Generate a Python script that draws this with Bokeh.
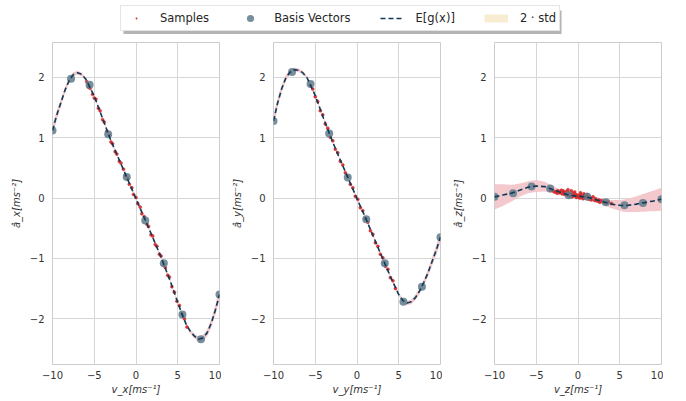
from bokeh.plotting import figure
from bokeh.models import FixedTicker, Range1d, Legend, LegendItem, BoxAnnotation
from bokeh.layouts import column, row
from bokeh.embed import file_html
from bokeh.resources import INLINE

# ---- data -----------------------------------------------------------
curve_x = [-10, -9.5, -9, -8.5, -8, -7.5, -7, -6.5, -6, -5, -4, -3, -2, -1, 0,
           1, 2, 3, 4, 5, 5.5, 6, 6.5, 7, 7.5, 8, 8.5, 9, 9.5, 10]

mean_x = [1.12, 1.37, 1.58, 1.79, 1.95, 2.05, 2.08, 2.05, 1.97, 1.69, 1.32, 0.95, 0.63, 0.31, -0.01,
          -0.33, -0.65, -0.98, -1.34, -1.73, -1.92, -2.09, -2.21, -2.29, -2.34, -2.32, -2.24, -2.08, -1.86, -1.60]
std_x = [0.10, 0.08, 0.065, 0.05, 0.04, 0.035, 0.03, 0.03, 0.025, 0.02, 0.02, 0.02, 0.02, 0.02, 0.02,
         0.02, 0.02, 0.02, 0.02, 0.02, 0.025, 0.03, 0.035, 0.04, 0.045, 0.05, 0.06, 0.07, 0.085, 0.10]

mean_y = [1.28, 1.58, 1.82, 2.00, 2.09, 2.13, 2.12, 2.08, 2.00, 1.70, 1.32, 0.96, 0.63, 0.31, -0.01,
          -0.32, -0.65, -0.98, -1.30, -1.60, -1.70, -1.74, -1.72, -1.65, -1.54, -1.40, -1.24, -1.05, -0.86, -0.65]
std_y = [0.10, 0.08, 0.065, 0.05, 0.04, 0.035, 0.03, 0.03, 0.025, 0.02, 0.02, 0.02, 0.02, 0.02, 0.02,
         0.02, 0.02, 0.02, 0.02, 0.025, 0.03, 0.035, 0.04, 0.045, 0.05, 0.055, 0.06, 0.07, 0.08, 0.09]

mean_z = [0.02, 0.035, 0.05, 0.065, 0.08, 0.105, 0.13, 0.155, 0.18, 0.20, 0.19, 0.14, 0.09, 0.045, 0.03,
          0.02, -0.02, -0.06, -0.10, -0.12, -0.125, -0.12, -0.11, -0.10, -0.085, -0.075, -0.06, -0.05, -0.035, -0.02]
std_z = [0.21, 0.195, 0.18, 0.16, 0.14, 0.125, 0.11, 0.105, 0.10, 0.10, 0.08, 0.06, 0.04, 0.03, 0.025,
         0.03, 0.04, 0.05, 0.07, 0.09, 0.10, 0.11, 0.12, 0.13, 0.14, 0.15, 0.16, 0.17, 0.18, 0.19]

basis_v = [-10, -7.78, -5.56, -3.33, -1.11, 1.11, 3.33, 5.56, 7.78, 10]
basis_ax = [1.12, 1.98, 1.88, 1.06, 0.35, -0.37, -1.08, -1.93, -2.34, -1.60]
basis_ay = [1.28, 2.09, 1.89, 1.07, 0.34, -0.35, -1.08, -1.72, -1.47, -0.65]
basis_az = [0.02, 0.08, 0.19, 0.16, 0.045, 0.02, -0.07, -0.12, -0.08, -0.02]

samp_vx = [-5.9, -5.7, -5.5, -5.2, -5.0, -4.8, -4.5, -4.3, -4.0, -3.8, -3.5, -3.2, -3.0, -2.8, -2.5, -2.3,
           -2.0, -1.8, -1.5, -1.3, -1.0, -0.8, -0.5, -0.3, 0.0, 0.2, 0.5, 0.7, 1.0, 1.3, 1.5, 1.8,
           2.0, 2.3, 2.5, 2.8, 3.0, 3.3, 3.5, 3.8, 4.0, 4.3, 4.6, 4.9, 5.2, 5.5, 5.8, 6.1]
samp_ax = [1.93, 1.84, 1.82, 1.72, 1.66, 1.64, 1.49, 1.45, 1.30, 1.26, 1.11, 1.04, 0.93, 0.90, 0.77, 0.73,
           0.61, 0.58, 0.48, 0.38, 0.33, 0.23, 0.17, 0.06, 0.01, -0.09, -0.15, -0.26, -0.31, -0.43, -0.47, -0.61,
           -0.63, -0.77, -0.80, -0.93, -0.96, -1.11, -1.15, -1.28, -1.31, -1.47, -1.56, -1.71, -1.78, -1.92, -2.00, -2.14]

samp_vy = [-5.6, -5.3, -5.0, -4.7, -4.4, -4.1, -3.8, -3.5, -3.2, -2.9, -2.6, -2.3, -2.0, -1.7, -1.4, -1.1,
           -0.8, -0.5, -0.2, 0.1, 0.4, 0.7, 1.0, 1.3, 1.6, 1.9, 2.2, 2.5, 2.8, 3.1, 3.4, 3.7, 4.0, 4.3, 4.6]
samp_ay = [1.87, 1.81, 1.68, 1.60, 1.45, 1.38, 1.23, 1.16, 1.01, 0.95, 0.81, 0.75, 0.61, 0.55, 0.42, 0.36,
           0.23, 0.17, 0.03, -0.02, -0.16, -0.21, -0.34, -0.40, -0.54, -0.60, -0.74, -0.80, -0.93, -0.99, -1.13,
           -1.18, -1.32, -1.37, -1.50]

samp_vz = [-3.3, -3.0, -2.8, -2.6, -2.4, -2.2, -2.0, -1.9, -1.7, -1.6, -1.4, -1.3, -1.1, -1.0, -0.9, -0.7,
           -0.6, -0.5, -0.3, -0.2, -0.1, 0.0, 0.1, 0.2, 0.3, 0.4, 0.5, 0.6, 0.8, 0.9, 1.0, 1.2, 1.3, 1.5,
           1.6, 1.8, 2.0, 2.1, 2.3, 2.5, 2.6, 2.8, 3.0, 3.3, 3.6, 4.0, -2.5, -1.8, -1.2, -0.4, 0.3, 0.7, -0.8, 1.1]
samp_az = [0.13, 0.12, 0.10, 0.11, 0.12, 0.09, 0.13, 0.07, 0.10, 0.06, 0.11, 0.05, 0.09, 0.03, 0.07, 0.02,
           0.08, 0.04, 0.06, 0.01, 0.05, 0.02, 0.04, 0.00, 0.06, 0.01, 0.03, -0.01, 0.05, 0.00, 0.02, 0.03,
           -0.02, 0.01, -0.03, 0.02, -0.04, -0.01, -0.05, -0.03, -0.07, -0.04, -0.06, -0.08, -0.06, -0.09,
           0.08, 0.12, 0.14, 0.10, 0.09, 0.07, 0.12, 0.06]

x_ticks = [-10, -5, 0, 5, 10]
x_tick_labels = ["\u221210", "\u22125", "0", "5", "10"]
y_ticks = [-2, -1, 0, 1, 2]
y_tick_labels = ["\u22122", "\u22121", "0", "1", "2"]

x_labels = ["v_x[ms\u207b\u00b9]", "v_y[ms\u207b\u00b9]", "v_z[ms\u207b\u00b9]"]
y_labels = ["\u00e2_x[ms\u207b\u00b2]", "\u00e2_y[ms\u207b\u00b2]", "\u00e2_z[ms\u207b\u00b2]"]

legend_labels = ["Samples", "Basis Vectors", "E[g(x)]", "2 \u00b7 std"]

# ---- styles ---------------------------------------------------------
FONT = "DejaVu Sans"
RED = "#d62728"
BASIS = "#5f7b8c"
LINE = "#0f3b57"
BAND = "#f4c9ce"
LEG_BAND = "#f8edd3"
GRID = "#d6d6d6"


def panel(mean, std, bx, by, sx, sy, xl, yl):
    p = figure(width=221, height=364, x_range=Range1d(-10, 10), y_range=Range1d(-2.76, 2.58),
               toolbar_location=None, output_backend="svg",
               min_border_left=52, min_border_right=2, min_border_top=8, min_border_bottom=34)
    lo = [m - s for m, s in zip(mean, std)]
    hi = [m + s for m, s in zip(mean, std)]
    p.varea(x=curve_x, y1=lo, y2=hi, fill_color=BAND, fill_alpha=1.0)
    p.scatter(sx, sy, size=3, fill_color=RED, line_color=RED, line_alpha=0.5, fill_alpha=0.9)
    p.scatter(bx, by, size=8, fill_color=BASIS, line_color=None, fill_alpha=0.85)
    p.line(curve_x, mean, line_color=LINE, line_width=1.6, line_dash="5 3")

    p.xaxis.ticker = FixedTicker(ticks=x_ticks)
    p.yaxis.ticker = FixedTicker(ticks=y_ticks)
    p.xgrid.ticker = FixedTicker(ticks=x_ticks)
    p.ygrid.ticker = FixedTicker(ticks=y_ticks)
    p.xaxis.major_label_overrides = dict(zip(x_ticks, x_tick_labels))
    p.yaxis.major_label_overrides = dict(zip(y_ticks, y_tick_labels))
    p.xaxis.axis_label = xl
    p.yaxis.axis_label = yl
    for ax in (p.xaxis, p.yaxis):
        ax.axis_line_color = None
        ax.major_tick_line_color = None
        ax.minor_tick_line_color = None
        ax.major_tick_out = 0
        ax.major_tick_in = 0
        ax.minor_tick_out = 0
        ax.minor_tick_in = 0
        ax.major_label_text_font = FONT
        ax.major_label_text_font_size = "10px"
        ax.major_label_text_color = "#333333"
        ax.axis_label_text_font = FONT
        ax.axis_label_text_font_size = "10px"
        ax.axis_label_text_color = "#333333"
    p.xaxis.major_label_standoff = 6
    p.xaxis.axis_label_standoff = 2
    p.yaxis.major_label_standoff = 8
    p.yaxis.axis_label_standoff = 5
    p.grid.grid_line_color = GRID
    p.grid.grid_line_width = 1
    p.outline_line_color = "#cccccc"
    p.outline_line_width = 1
    p.outline_line_alpha = 1.0
    p.background_fill_color = "white"
    p.border_fill_color = "white"
    return p


p1 = panel(mean_x, std_x, basis_v, basis_ax, samp_vx, samp_ax, x_labels[0], y_labels[0])
p2 = panel(mean_y, std_y, basis_v, basis_ay, samp_vy, samp_ay, x_labels[1], y_labels[1])
p3 = panel(mean_z, std_z, basis_v, basis_az, samp_vz, samp_az, x_labels[2], y_labels[2])

# ---- legend strip ---------------------------------------------------
lf = figure(width=663, height=34, x_range=Range1d(0, 1), y_range=Range1d(0, 1),
            toolbar_location=None, output_backend="svg",
            min_border_left=0, min_border_right=0, min_border_top=0, min_border_bottom=0)
lf.axis.visible = False
lf.grid.visible = False
lf.outline_line_color = None
# proxy renderers, placed outside the visible range: they only feed the legend
r1 = lf.scatter(x=[-5], y=[-5], marker="dot", size=8, fill_color=RED, line_color=RED)
r2 = lf.scatter(x=[-5], y=[-5], size=8, fill_color=BASIS, line_color=None, fill_alpha=0.85)
r3 = lf.line(x=[-5, -4], y=[-5, -5], line_color=LINE, line_width=1.6, line_dash="5 3")
r4 = lf.line(x=[-5, -4], y=[-5, -5], line_color=LEG_BAND, line_width=8, line_cap="butt")

# drop shadow of the legend frame (screen units, measured from the bottom)
shadow = BoxAnnotation(left=123, right=561, top=24, bottom=0,
                       left_units="screen", right_units="screen",
                       top_units="screen", bottom_units="screen",
                       fill_color="#b3b3b3", fill_alpha=1.0, line_color=None, level="underlay")
lf.add_layout(shadow)

leg = Legend(items=[LegendItem(label=legend_labels[0], renderers=[r1]),
                    LegendItem(label=legend_labels[1], renderers=[r2]),
                    LegendItem(label=legend_labels[2], renderers=[r3]),
                    LegendItem(label=legend_labels[3], renderers=[r4])],
             orientation="horizontal", location=(120, 3),
             label_text_font=FONT, label_text_font_size="11.5px", label_text_color="#262626",
             glyph_width=24, glyph_height=18, label_height=14, label_standoff=12,
             spacing=29, padding=3, margin=0,
             border_line_color="#cccccc", border_line_width=1,
             background_fill_color="white", background_fill_alpha=1.0)
lf.add_layout(leg, "center")

layout = column(lf, row(p1, p2, p3))

open("out.html", "w").write(file_html(layout, INLINE))
